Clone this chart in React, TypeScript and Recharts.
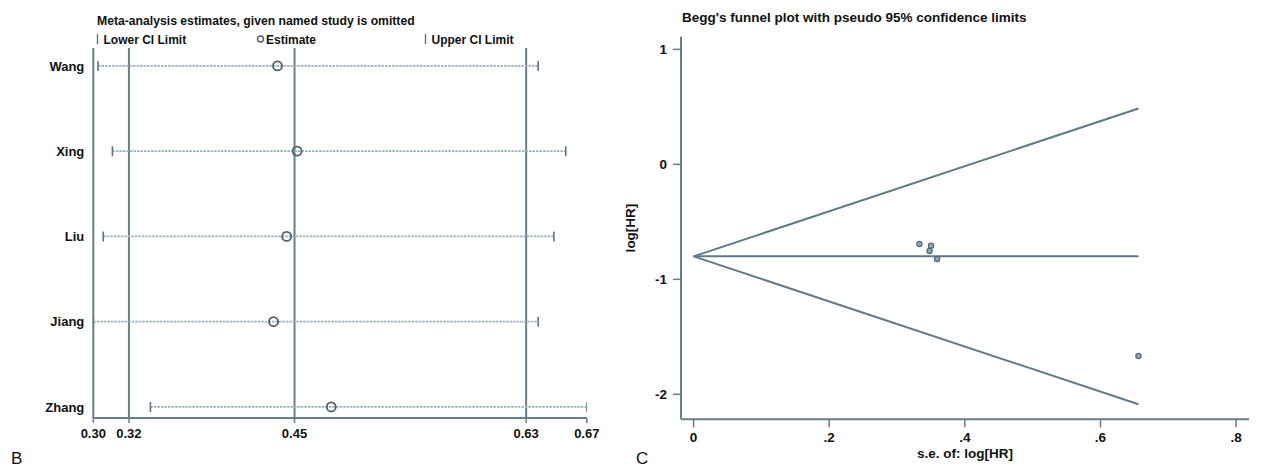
import React from 'react';
import { ScatterChart, Scatter, XAxis, YAxis, ReferenceLine } from 'recharts';

// ---- Panel B: influence analysis (estimate with named study omitted) ----
const studies = ['Wang', 'Xing', 'Liu', 'Jiang', 'Zhang'];
const lowerCI = [0.3, 0.311, 0.304, 0.2964, 0.34];
const estimates = [0.437, 0.452, 0.444, 0.434, 0.478];
const upperCI = [0.636, 0.657, 0.648, 0.636, 0.6731];
const overallLower = 0.3236;
const overallEstimate = 0.45;
const overallUpper = 0.6268;
const influenceTicks = [0.2964, 0.3236, 0.45, 0.6268, 0.6731];
const rowIndex = [0, 1, 2, 3, 4];

// ---- Panel C: Begg's funnel plot ----
const studySE = [0.333, 0.35, 0.348, 0.359, 0.656];
const studyLogHR = [-0.693, -0.708, -0.754, -0.823, -1.667];
const limitSE = [0, 0.656];
const pooledLine = [-0.8, -0.8];
const upperLimit = [-0.8, 0.486];
const lowerLimit = [-0.8, -2.086];
const funnelXTicks = [0, 0.2, 0.4, 0.6, 0.8];
const funnelYTicks = [-2, -1, 0, 1];

const FONT = 'Liberation Sans, Arial, Helvetica, sans-serif';
const AXIS = '#677f8b';
const LINE = '#607986';
const CI = '#9bb0bb';

const CapShape = (p: any) => (
  <line x1={p.cx} x2={p.cx} y1={p.cy - 5} y2={p.cy + 5} stroke="#5d7581" strokeWidth={1.6} />
);
const HollowCircle = (p: any) => (
  <circle cx={p.cx} cy={p.cy} r={4.5} fill="none" stroke="#4b616d" strokeWidth={1.8} />
);
const Empty = () => <g />;
const SmallDot = (p: any) => (
  <circle cx={p.cx} cy={p.cy} r={2.6} fill="#93a8b4" stroke="#4f6a79" strokeWidth={1.2} />
);

const tickStyle = (size: number) => ({ fill: '#111', fontSize: size, fontWeight: 700, fontFamily: FONT });

const fmtFunnelX = (v: number) => (v === 0 ? '0' : String(+v.toFixed(1)).replace(/^0/, ''));

export default function App() {
  const ciRows = rowIndex.map((i) => [
    { x: lowerCI[i], y: i },
    { x: upperCI[i], y: i },
  ]);
  const estData = rowIndex.map((i) => ({ x: estimates[i], y: i }));

  const mk = (ys: number[]) => limitSE.map((x, k) => ({ x, y: ys[k] }));
  const points = studySE.map((x, k) => ({ x, y: studyLogHR[k] }));

  return (
    <div style={{ position: 'absolute', left: 0, top: 0, width: 1267, height: 470, background: '#fff', fontFamily: FONT }}>
      <div style={{ position: 'absolute', left: 0, top: 0 }}>
        <ScatterChart width={620} height={470} margin={{ top: 48, right: 33.2, bottom: 22, left: 0 }}>
          <XAxis
            type="number"
            dataKey="x"
            domain={[0.2964, 0.6731]}
            allowDataOverflow
            ticks={influenceTicks}
            interval={0}
            tickFormatter={(v: number) => v.toFixed(2)}
            height={30}
            axisLine={{ stroke: AXIS, strokeWidth: 2 }}
            tickLine={{ stroke: AXIS, strokeWidth: 1.5 }}
            tickSize={5}
            tickMargin={6}
            tick={tickStyle(13)}
          />
          <YAxis
            type="number"
            dataKey="y"
            domain={[-0.21, 4.13]}
            allowDataOverflow
            reversed
            ticks={rowIndex}
            interval={0}
            tickFormatter={(v: number) => studies[v]}
            width={93.3}
            axisLine={{ stroke: AXIS, strokeWidth: 2 }}
            tickLine={false}
            tickSize={6}
            tickMargin={3}
            tick={tickStyle(13)}
          />
          <ReferenceLine x={overallLower} stroke={AXIS} strokeWidth={2} />
          <ReferenceLine x={overallEstimate} stroke={AXIS} strokeWidth={2} />
          <ReferenceLine x={overallUpper} stroke={AXIS} strokeWidth={2} />
          {ciRows.map((d, i) => (
            <Scatter
              key={i}
              data={d}
              fill={CI}
              line={{ stroke: CI, strokeWidth: 1.7, strokeDasharray: '2.5 1' }}
              shape={CapShape}
              isAnimationActive={false}
            />
          ))}
          <Scatter data={estData} fill="#4b616d" shape={HollowCircle} isAnimationActive={false} />
        </ScatterChart>
      </div>

      <div style={{ position: 'absolute', left: 620, top: 0 }}>
        <ScatterChart width={647} height={470} margin={{ top: 36.7, right: 18, bottom: 20.7, left: 0 }}>
          <XAxis
            type="number"
            dataKey="x"
            domain={[-0.0186, 0.819]}
            allowDataOverflow
            ticks={funnelXTicks}
            interval={0}
            tickFormatter={fmtFunnelX}
            height={30}
            axisLine={{ stroke: AXIS, strokeWidth: 2 }}
            tickLine={{ stroke: AXIS, strokeWidth: 1.5 }}
            tickSize={8}
            tickMargin={5}
            tick={tickStyle(13.5)}
          />
          <YAxis
            type="number"
            dataKey="y"
            domain={[-2.217, 1.11]}
            allowDataOverflow
            ticks={funnelYTicks}
            interval={0}
            width={61}
            axisLine={{ stroke: AXIS, strokeWidth: 2 }}
            tickLine={{ stroke: AXIS, strokeWidth: 1.5 }}
            tickSize={8}
            tickMargin={6}
            tick={tickStyle(13.5)}
          />
          <Scatter data={mk(upperLimit)} fill={LINE} line={{ stroke: LINE, strokeWidth: 2 }} shape={Empty} isAnimationActive={false} />
          <Scatter data={mk(pooledLine)} fill={LINE} line={{ stroke: LINE, strokeWidth: 2 }} shape={Empty} isAnimationActive={false} />
          <Scatter data={mk(lowerLimit)} fill={LINE} line={{ stroke: LINE, strokeWidth: 2 }} shape={Empty} isAnimationActive={false} />
          <Scatter data={points} fill="#93a8b4" shape={SmallDot} isAnimationActive={false} />
        </ScatterChart>
      </div>

      <svg width={1267} height={470} style={{ position: 'absolute', left: 0, top: 0, pointerEvents: 'none' }}>
        <g fontFamily={FONT} fill="#111">
          <text x={97} y={25} fontSize={12.2} fontWeight={700}>Meta-analysis estimates, given named study is omitted</text>
          <line x1={97.5} x2={97.5} y1={34} y2={44} stroke="#5d7581" strokeWidth={1.4} />
          <text x={103.5} y={43.5} fontSize={12} fontWeight={700}>Lower CI Limit</text>
          <circle cx={260.5} cy={39} r={3} fill="none" stroke="#4b616d" strokeWidth={1.4} />
          <text x={266} y={43.5} fontSize={12} fontWeight={700}>Estimate</text>
          <line x1={425.5} x2={425.5} y1={34} y2={44} stroke="#5d7581" strokeWidth={1.4} />
          <text x={431.5} y={43.5} fontSize={12} fontWeight={700}>Upper CI Limit</text>
          <text x={11} y={464} fontSize={17}>B</text>

          <text x={682} y={21.5} fontSize={13.5} fontWeight={700}>Begg's funnel plot with pseudo 95% confidence limits</text>
          <text x={635} y={228} fontSize={13.5} fontWeight={700} textAnchor="middle" transform="rotate(-90 635 228)">log[HR]</text>
          <text x={965} y={458} fontSize={13.5} fontWeight={700} textAnchor="middle">s.e. of: log[HR]</text>
          <text x={636} y={464} fontSize={17}>C</text>
        </g>
      </svg>
    </div>
  );
}
